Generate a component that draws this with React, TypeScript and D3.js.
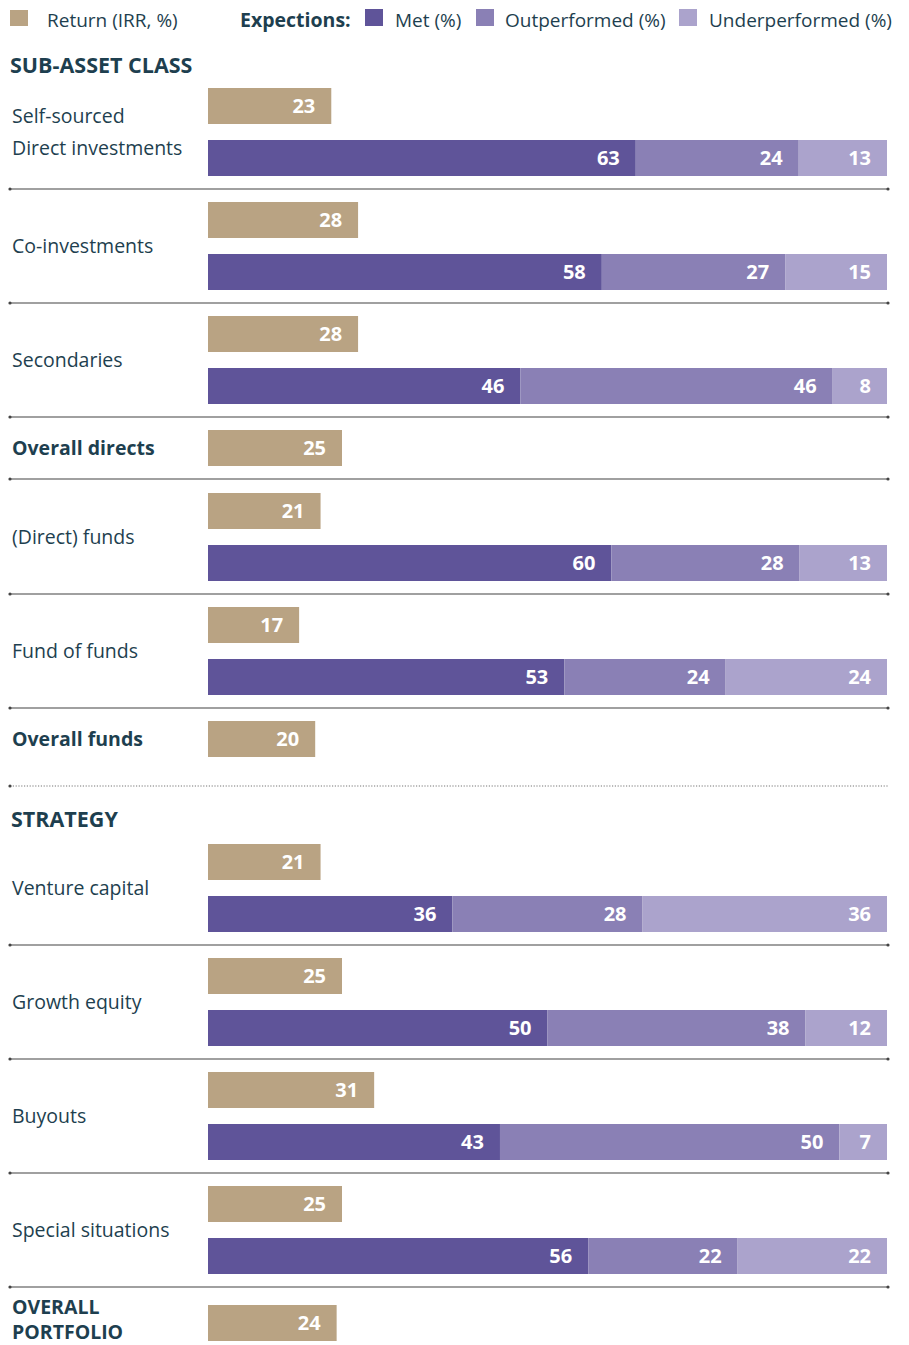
import React from "react";
import * as d3 from "d3";

const categories = [
  "Self-sourced\nDirect investments",
  "Co-investments",
  "Secondaries",
  "Overall directs",
  "(Direct) funds",
  "Fund of funds",
  "Overall funds",
  "Venture capital",
  "Growth equity",
  "Buyouts",
  "Special situations",
  "OVERALL\nPORTFOLIO",
];
const sectionTitles = ["SUB-ASSET CLASS", "STRATEGY"];
const isTotal = [false, false, false, true, false, false, true, false, false, false, false, true];
const returnIRR = [23, 28, 28, 25, 21, 17, 20, 21, 25, 31, 25, 24];
const met: (number | null)[] = [63, 58, 46, null, 60, 53, null, 36, 50, 43, 56, null];
const outperformed: (number | null)[] = [24, 27, 46, null, 28, 24, null, 28, 38, 50, 22, null];
const underperformed: (number | null)[] = [13, 15, 8, null, 13, 24, null, 36, 12, 7, 22, null];
const seriesNames = ["Met (%)", "Outperformed (%)", "Underperformed (%)"];

const TEXT = "#1e3f4f";
const TAN = "#b9a383";
const COLORS = ["#5f5499", "#8a80b5", "#aba3cc"];
const FONT = "'Open Sans', 'Noto Sans', sans-serif";

export default function App() {
  const W = 909, H = 1345;
  const x0 = 208;
  const retScale = d3.scaleLinear().domain([0, 100]).range([0, 536]);
  const barH = 36;

  // layout
  const rows: any[] = [];
  let y = 88;
  categories.forEach((c, i) => {
    const hasStack = met[i] != null;
    if (i === 7) y = 844;
    if (i === 11) y = 1305;
    const r: any = { i, c, y, hasStack };
    if (hasStack) {
      r.stackY = y + 52;
      r.sepY = y + 101;
      r.center = y + 44;
      y += 114;
    } else {
      r.sepY = i === 6 ? y + 65 : y + 49;
      r.center = y + barH / 2;
      y += 63;
    }
    r.dotted = i === 6;
    r.noSep = i === 11;
    rows.push(r);
  });

  const sepLine = (yy: number, dotted: boolean, key: string) => (
    <g key={key}>
      <line x1={10} x2={888} y1={yy} y2={yy} stroke={dotted ? "#777" : "#808080"} strokeWidth={dotted ? 1.2 : 1.6} strokeDasharray={dotted ? "1.2,1.6" : undefined} />
      <circle cx={10} cy={yy} r={1.6} fill="#444" />
      {!dotted && <circle cx={888} cy={yy} r={1.6} fill="#444" />}
    </g>
  );

  const legendItems = [
    { x: 365, color: COLORS[0], label: seriesNames[0], tx: 395 },
    { x: 476, color: COLORS[1], label: seriesNames[1], tx: 505 },
    { x: 679, color: COLORS[2], label: seriesNames[2], tx: 709 },
  ];

  return (
    <svg width={W} height={H} style={{ display: "block", margin: 0, position: "absolute", left: 0, top: 0 }} fontFamily={FONT}>
      <rect width={W} height={H} fill="#fff" />
      {/* legend */}
      <rect x={10} y={10} width={18} height={16} fill={TAN} />
      <text x={47} y={27} fontSize={19} fill={TEXT}>Return (IRR, %)</text>
      <text x={240} y={27} fontSize={19.5} fontWeight={700} fill={TEXT}>Expections:</text>
      {legendItems.map((l) => (
        <g key={l.label}>
          <rect x={l.x} y={9} width={18} height={17} fill={l.color} />
          <text x={l.tx} y={27} fontSize={19} fill={TEXT}>{l.label}</text>
        </g>
      ))}
      <text x={10} y={73} fontSize={21.5} fontWeight={700} fill={TEXT}>{sectionTitles[0]}</text>
      <text x={11} y={827} fontSize={21.5} fontWeight={700} fill={TEXT}>{sectionTitles[1]}</text>

      {rows.map((r) => {
        const i = r.i;
        const lines = r.c.split("\n");
        const bold = isTotal[i];
        const gap = lines.length > 1 ? (i === 11 ? 25 : 32) : 0;
        const shift = i === 11 ? -3 : 0;
        const lx = 12;
        const retW = retScale(returnIRR[i]);
        const vals = [met[i], outperformed[i], underperformed[i]] as number[];
        let stack: any[] = [];
        if (r.hasStack) {
          const total = d3.sum(vals);
          const sx = d3.scaleLinear().domain([0, total]).range([x0, 887]);
          const cum = d3.cumsum(vals);
          stack = vals.map((v, k) => ({ v, x1: sx(cum[k] - v), x2: sx(cum[k]), k }));
        }
        return (
          <g key={i}>
            {lines.map((t: string, k: number) => (
              <text key={k} x={lx} y={r.center - gap / 2 + k * gap + shift} dy="0.35em" fontSize={19.5} fontWeight={bold ? 700 : 400} fill={TEXT}>
                {t}
              </text>
            ))}
            <rect x={x0} y={r.y} width={retW} height={barH} fill={TAN} />
            <text x={x0 + retW - 16} y={r.y + barH / 2} dy="0.35em" textAnchor="end" fontSize={20} fontWeight={700} fill="#fff">
              {returnIRR[i]}
            </text>
            {stack.map((s) => (
              <g key={s.k}>
                <rect x={s.x1} y={r.stackY} width={s.x2 - s.x1} height={barH} fill={COLORS[s.k]} />
                <text x={s.x2 - 16} y={r.stackY + barH / 2} dy="0.35em" textAnchor="end" fontSize={20} fontWeight={700} fill="#fff">
                  {s.v}
                </text>
              </g>
            ))}
            {!r.noSep && sepLine(r.sepY, r.dotted, "s" + i)}
          </g>
        );
      })}
    </svg>
  );
}
